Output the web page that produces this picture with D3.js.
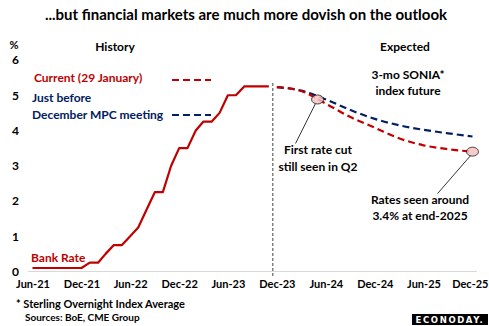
<!DOCTYPE html>
<html>
<head>
<meta charset="utf-8">
<script src="https://cdn.jsdelivr.net/npm/d3@7"></script>
<style>
  body { margin: 0; background: #fff; }
  svg text { font-family: Lato, 'Open Sans', sans-serif; font-weight: bold; }
</style>
</head>
<body>
<div class="chart"></div>
<script>
// Bank Rate, monthly Jun-21 .. Nov-23
const bankMonths = ['2021-06','2021-07','2021-08','2021-09','2021-10','2021-11','2021-12',
  '2022-01','2022-02','2022-03','2022-04','2022-05','2022-06','2022-07','2022-08','2022-09','2022-10','2022-11','2022-12',
  '2023-01','2023-02','2023-03','2023-04','2023-05','2023-06','2023-07','2023-08','2023-09','2023-10','2023-11'];
const bankRate = [0.1,0.1,0.1,0.1,0.1,0.1,0.1,
  0.25,0.25,0.5,0.75,0.75,1.0,1.25,1.75,2.25,2.25,3.0,3.5,
  3.5,4.0,4.25,4.25,4.5,5.0,5.0,5.25,5.25,5.25,5.25];

// 3-mo SONIA futures strip, quarterly
const futMonths = ['2023-12','2024-03','2024-06','2024-09','2024-12','2025-03','2025-06','2025-09','2025-12'];
const futCurrent = [5.23,5.12,4.76,4.38,4.08,3.78,3.58,3.47,3.40];   // 29 January
const futBeforeMPC = [5.23,5.13,4.88,4.58,4.33,4.15,4.02,3.92,3.83]; // just before December MPC

const tickMonths = ['2021-06','2021-12','2022-06','2022-12','2023-06','2023-12','2024-06','2024-12','2025-06','2025-12'];
const yTicks = [0,1,2,3,4,5,6];

// call-outs on the current curve
const callouts = [
  {month: '2024-05', value: 4.88, lines: ['First rate cut', 'still seen in Q2'], dx: -22, dy: 44},
  {month: '2025-12', value: 3.40, lines: ['Rates seen around', '3.4% at end-2025'], dx: -35, dy: 42}
];

const red = '#c00000', navy = '#002060';
const w = 489, h = 326;
const parse = d3.timeParse('%Y-%m');

const x = d3.scaleTime()
  .domain([parse('2021-06'), parse('2025-12')])
  .range([32.5, 472.5]);
const y = d3.scaleLinear()
  .domain([0, 6])
  .range([271.5, 60]);

const svg = d3.select('.chart').append('svg')
  .attr('width', w)
  .attr('height', h);

svg.append('rect').attr('width', w).attr('height', h).attr('fill', '#fff');

svg.append('text')
  .attr('x', 246).attr('y', 20)
  .attr('text-anchor', 'middle')
  .attr('font-size', 15)
  .text('...but financial markets are much more dovish on the outlook');

// baseline
svg.append('line')
  .attr('x1', x(parse('2021-06')) - 4.5).attr('x2', x(parse('2025-12')) + 4.5)
  .attr('y1', y(0)).attr('y2', y(0))
  .attr('stroke', '#d9d9d9').attr('stroke-width', 1.2);

// y labels
const yAxis = svg.append('g')
  .attr('transform', 'translate(19,0)')
  .call(d3.axisLeft(y).tickValues(yTicks).tickSize(0).tickPadding(0).tickFormat(d3.format('d')));
yAxis.select('.domain').remove();
yAxis.selectAll('text').attr('font-size', 12).attr('fill', '#000').attr('dy', '0.32em');

svg.append('text').attr('x', 14).attr('y', 49).attr('text-anchor', 'middle')
  .attr('font-size', 11).text('%');

// x labels
const xAxis = svg.append('g')
  .attr('transform', `translate(0,${y(0) + 9})`)
  .call(d3.axisBottom(x).tickValues(tickMonths.map(parse)).tickSize(0).tickPadding(0)
    .tickFormat(d3.timeFormat('%b-%y')));
xAxis.select('.domain').remove();
xAxis.selectAll('text').attr('font-size', 11).attr('fill', '#000');
// last label would run off the right edge, so pin it to its end
xAxis.selectAll('.tick:last-of-type text')
  .attr('text-anchor', 'end')
  .attr('x', 15.5);

// history / expected divider
const divX = x(parse('2023-11')) + (x(parse('2023-12')) - x(parse('2023-11'))) / 2;
svg.append('line')
  .attr('x1', divX).attr('x2', divX)
  .attr('y1', 83).attr('y2', y(0) + 6)
  .attr('stroke', '#404040').attr('stroke-width', 1)
  .attr('stroke-dasharray', '3,2');

svg.append('text').attr('x', 115).attr('y', 51).attr('text-anchor', 'middle')
  .attr('font-size', 12).text('History');
svg.append('text').attr('x', 405).attr('y', 51).attr('text-anchor', 'middle')
  .attr('font-size', 12).text('Expected');

const line = d3.line()
  .x(d => x(d[0]))
  .y(d => y(d[1]));

svg.append('path')
  .datum(bankMonths.map((m, i) => [parse(m), bankRate[i]]))
  .attr('d', line)
  .attr('fill', 'none')
  .attr('stroke', red)
  .attr('stroke-width', 2.2)
  .attr('stroke-linejoin', 'round');

const smooth = d3.line()
  .x(d => x(d[0]))
  .y(d => y(d[1]))
  .curve(d3.curveMonotoneX);

svg.append('path')
  .datum(futMonths.map((m, i) => [parse(m), futBeforeMPC[i]]))
  .attr('d', smooth)
  .attr('fill', 'none')
  .attr('stroke', navy)
  .attr('stroke-width', 2.2)
  .attr('stroke-dasharray', '7,4');

svg.append('path')
  .datum(futMonths.map((m, i) => [parse(m), futCurrent[i]]))
  .attr('d', smooth)
  .attr('fill', 'none')
  .attr('stroke', red)
  .attr('stroke-width', 2.2)
  .attr('stroke-dasharray', '7,4');

// legend
svg.append('text').attr('x', 34).attr('y', 82).attr('font-size', 12).attr('fill', red)
  .text('Current (29 January)');
svg.append('line').attr('x1', 172).attr('x2', 211).attr('y1', 80).attr('y2', 80)
  .attr('stroke', red).attr('stroke-width', 2.2).attr('stroke-dasharray', '7,4');
svg.append('text').attr('x', 32).attr('y', 102).attr('font-size', 12).attr('fill', navy)
  .text('Just before');
svg.append('text').attr('x', 32).attr('y', 119).attr('font-size', 12).attr('fill', navy)
  .text('December MPC meeting');
svg.append('line').attr('x1', 172).attr('x2', 211).attr('y1', 115).attr('y2', 115)
  .attr('stroke', navy).attr('stroke-width', 2.2).attr('stroke-dasharray', '7,4');

svg.append('text').attr('x', 31).attr('y', 262).attr('font-size', 12).attr('fill', red)
  .text('Bank Rate');

svg.append('text').attr('x', 408).attr('y', 79).attr('text-anchor', 'middle')
  .attr('font-size', 12).text('3-mo SONIA*');
svg.append('text').attr('x', 408).attr('y', 95).attr('text-anchor', 'middle')
  .attr('font-size', 12).text('index  future');

// call-outs
callouts.forEach(c => {
  const cx = x(parse(c.month)), cy = y(c.value);
  svg.append('line')
    .attr('x1', cx - 2).attr('y1', cy + 4)
    .attr('x2', cx + c.dx).attr('y2', cy + c.dy)
    .attr('stroke', '#000').attr('stroke-width', 0.8);
  svg.append('ellipse')
    .attr('cx', cx).attr('cy', cy)
    .attr('rx', 6).attr('ry', 4.5)
    .attr('fill', '#f4c2c2').attr('fill-opacity', 0.85)
    .attr('stroke', '#000').attr('stroke-width', 0.7);
});
svg.append('text').attr('x', 318).attr('y', 154).attr('text-anchor', 'middle')
  .attr('font-size', 12).text('First rate cut');
svg.append('text').attr('x', 318).attr('y', 171).attr('text-anchor', 'middle')
  .attr('font-size', 12).text('still seen in Q2');
svg.append('text').attr('x', 420).attr('y', 204).attr('text-anchor', 'middle')
  .attr('font-size', 12).text('Rates seen around');
svg.append('text').attr('x', 420).attr('y', 220).attr('text-anchor', 'middle')
  .attr('font-size', 12).text('3.4% at end-2025');

// footnotes
svg.append('text').attr('x', 16).attr('y', 308).attr('font-size', 11)
  .text('* Sterling Overnight Index Average');
svg.append('text').attr('x', 25).attr('y', 321).attr('font-size', 10)
  .text('Sources: BoE, CME Group');

// logo
svg.append('rect').attr('x', 412).attr('y', 314).attr('width', 76).attr('height', 11).attr('fill', '#000');
svg.append('text').attr('x', 450).attr('y', 323).attr('text-anchor', 'middle')
  .attr('font-size', 8.5).attr('fill', '#fff').attr('letter-spacing', 1.6)
  .style('font-family', "'DejaVu Sans', sans-serif")
  .text('ECONODAY.');
</script>
</body>
</html>
